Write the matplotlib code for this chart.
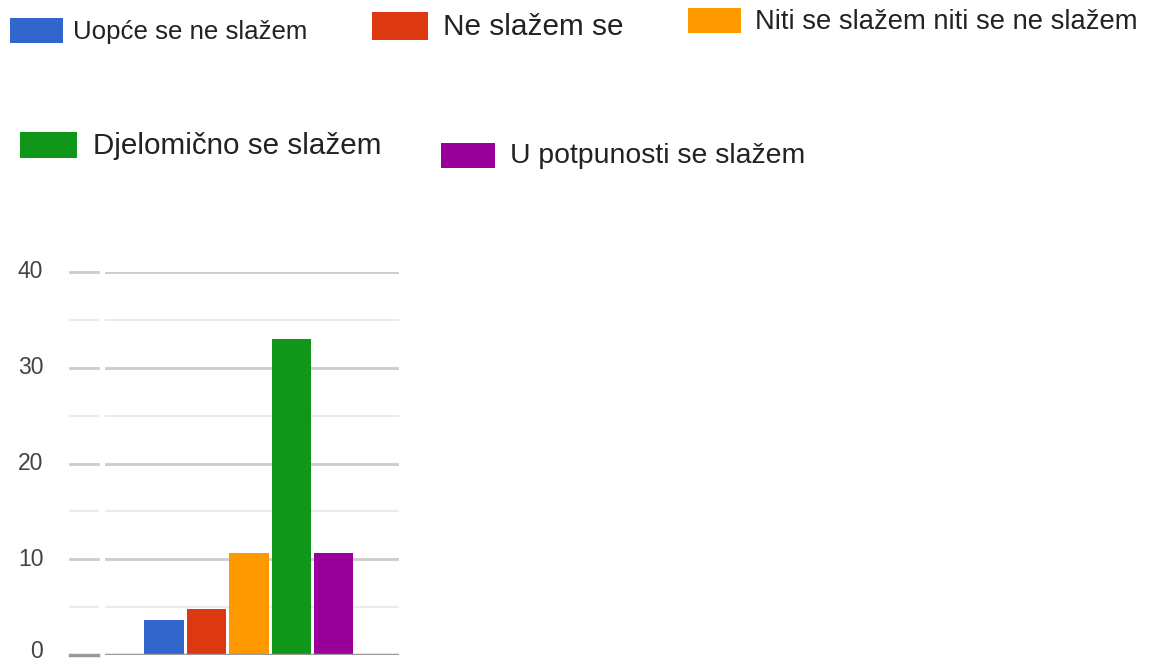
import matplotlib.pyplot as plt
from matplotlib.patches import Rectangle
import matplotlib.transforms as mtransforms

#------------ data --------------------
categories = ["Uopće se ne slažem", "Ne slažem se", "Niti se slažem niti se ne slažem",
              "Djelomično se slažem", "U potpunosti se slažem"]
counts = [3.7, 4.8, 10.7, 33, 10.7]
colors = ["#3366cc", "#dc3912", "#ff9900", "#109618", "#990099"]
major_ticks = [0, 10, 20, 30, 40]
minor_ticks = [5, 15, 25, 35]

plt.rcParams['font.family'] = ['Liberation Sans', 'DejaVu Sans']

W, H = 1150, 662
fig = plt.figure(figsize=(W / 100, H / 100), dpi=100)

def px(x, y):
    # pixel (top-left origin) -> figure fraction
    return x / W, 1 - y / H

#------------ legend (free placed) --------------------
# swatch box (x0, y0, x1, y1), text x, text center y, font size
legend_pos = [((10, 18, 63, 43), 73, 32, 18.6),
              ((372, 12, 428, 40), 443, 27, 21.4),
              ((688, 8, 741, 33), 755, 22, 19.7),
              ((20, 132, 77, 158), 93, 146, 21.3),
              ((441, 143, 495, 168), 510, 156, 20.4)]
for (box, tx, ty, fs), lab, c in zip(legend_pos, categories, colors):
    x0, y0, x1, y1 = box
    fx, fy = px(x0, y1)
    fig.add_artist(Rectangle((fx, fy), (x1 - x0) / W, (y1 - y0) / H,
                             transform=fig.transFigure, color=c, lw=0))
    fig.text(*px(tx, ty), lab, fontsize=fs, color="#222222", va="center", ha="left")

#------------ bar chart --------------------
left, right, top, bottom = 105, 399, 272, 655
ax = fig.add_axes([left / W, 1 - bottom / H, (right - left) / W, (bottom - top) / H])
x = list(range(len(counts)))
ax.bar(x, counts, width=0.93, color=colors, zorder=3)
ax.set_xlim(-1.39, 5.54)
ax.set_ylim(0, 40)

for s in ax.spines.values():
    s.set_visible(False)
ax.set_xticks([])
ax.set_yticks([])

for v in minor_ticks:
    ax.axhline(v, color="#ebebeb", lw=1.5, zorder=1)
for v in major_ticks[1:]:
    ax.axhline(v, color="#cccccc", lw=2, zorder=1)
ax.axhline(0, color="#999999", lw=2.5, zorder=4)

# little dashes left of the plot and the labels
trans = mtransforms.blended_transform_factory(ax.transAxes, ax.transData)
for v in minor_ticks:
    ax.plot([-0.119, -0.024], [v, v], color="#ebebeb", lw=1.5, transform=trans, clip_on=False)
for v in major_ticks:
    c = "#999999" if v == 0 else "#cccccc"
    ax.plot([-0.119, -0.024], [v, v], color=c, lw=2.5 if v == 0 else 2,
            transform=trans, clip_on=False)
    ty = v + 0.35 if v == 0 else v
    ax.text(-0.21, ty, str(v), transform=trans, ha="right", va="center",
            fontsize=16.5, color="#444444")

fig.savefig("out.png", dpi=100)
